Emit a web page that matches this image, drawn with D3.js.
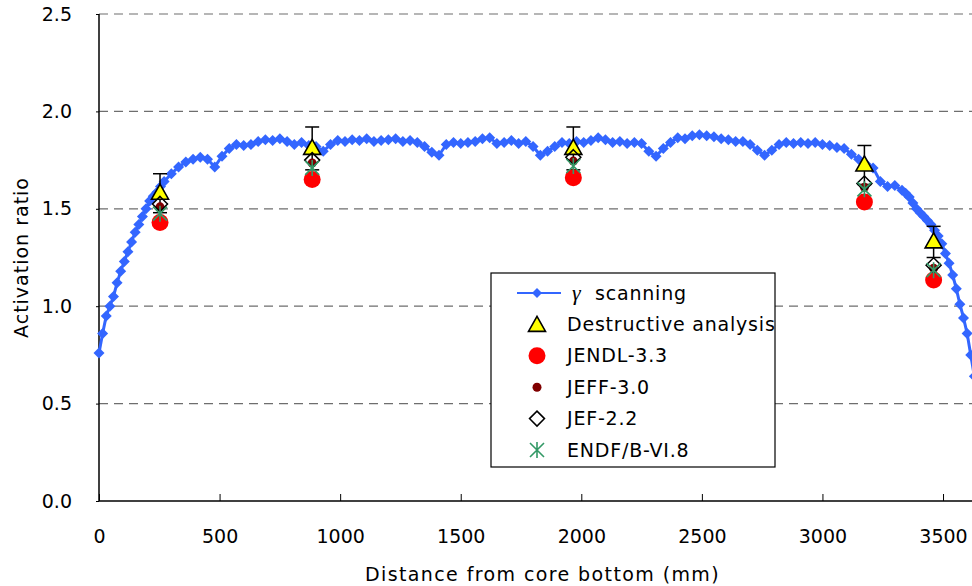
<!DOCTYPE html>
<html>
<head>
<meta charset="utf-8">
<script src="https://cdn.jsdelivr.net/npm/d3@7"></script>
<style>
  body { margin: 0; background: #fff; }
  svg text { font-family: "DejaVu Sans", sans-serif; fill: #000; }
</style>
</head>
<body>
<div id="graph"></div>
<script>
// chart data
const gammaPos = [0, 15, 30, 45, 60, 75, 90, 105, 120, 135, 150, 165, 180, 195, 210, 225, 240, 255, 270, 300,
  330, 360, 390, 420, 450, 480, 510, 540, 570,
  600, 630, 660, 690, 720, 750, 780, 810, 840, 870, 900, 930, 960, 990, 1020, 1050, 1080, 1110, 1140, 1170,
  1200, 1230, 1260, 1290, 1320, 1350, 1380, 1410, 1440, 1470, 1500, 1530, 1560, 1590, 1620, 1650, 1680, 1710, 1740, 1770,
  1800, 1830, 1860, 1890, 1920, 1950, 1980, 2010, 2040, 2070, 2100, 2130, 2160, 2190, 2220, 2250, 2280, 2310, 2340, 2370,
  2400, 2430, 2460, 2490, 2520, 2550, 2580, 2610, 2640, 2670, 2700, 2730, 2760, 2790, 2820, 2850, 2880, 2910, 2940, 2970,
  3000, 3030, 3060, 3090, 3120, 3150, 3180, 3210, 3240, 3270, 3300, 3330, 3345, 3360, 3375, 3390, 3405, 3420, 3435, 3450,
  3465, 3480, 3495, 3510, 3525, 3540, 3555, 3570, 3585, 3600, 3615, 3630];
const gammaVal = [0.76, 0.86, 0.95, 1.00, 1.05, 1.12, 1.18, 1.23, 1.28, 1.33, 1.38, 1.42, 1.46, 1.50, 1.54, 1.565, 1.585, 1.615, 1.64, 1.68,
  1.715, 1.74, 1.755, 1.765, 1.755, 1.715, 1.77, 1.81, 1.83,
  1.825, 1.83, 1.845, 1.855, 1.85, 1.86, 1.845, 1.83, 1.84, 1.825, 1.82, 1.795, 1.83, 1.85, 1.845, 1.855, 1.85, 1.86, 1.845, 1.85,
  1.855, 1.86, 1.845, 1.85, 1.84, 1.82, 1.79, 1.775, 1.83, 1.84, 1.835, 1.84, 1.845, 1.86, 1.865, 1.835, 1.84, 1.85, 1.835, 1.845,
  1.82, 1.775, 1.795, 1.82, 1.84, 1.835, 1.845, 1.84, 1.85, 1.865, 1.855, 1.84, 1.845, 1.835, 1.84, 1.835, 1.795, 1.77, 1.81, 1.84,
  1.865, 1.86, 1.875, 1.88, 1.875, 1.87, 1.86, 1.855, 1.845, 1.845, 1.83, 1.80, 1.775, 1.80, 1.83, 1.84, 1.835, 1.84, 1.835, 1.84,
  1.83, 1.825, 1.815, 1.81, 1.78, 1.755, 1.73, 1.71, 1.64, 1.615, 1.62, 1.595, 1.58, 1.56, 1.53, 1.50, 1.48, 1.46, 1.44, 1.42,
  1.39, 1.36, 1.32, 1.27, 1.22, 1.16, 1.09, 1.01, 0.94, 0.86, 0.75, 0.64];

const samplePos = [253, 884, 1967, 3174, 3461];
const destructive = [1.58, 1.81, 1.81, 1.725, 1.33];
const destructiveErr = [0.10, 0.11, 0.11, 0.10, 0.08];
const jendl33 = [1.43, 1.65, 1.66, 1.535, 1.135];
const jeff30 = [1.51, 1.735, 1.745, 1.61, 1.195];
const jef22 = [1.525, 1.75, 1.765, 1.63, 1.21];
const endf68 = [1.475, 1.71, 1.72, 1.60, 1.185];

const xTicks = [0, 500, 1000, 1500, 2000, 2500, 3000, 3500];
const yTicks = [0.0, 0.5, 1.0, 1.5, 2.0, 2.5];
const legendNames = ["scanning", "Destructive analysis", "JENDL-3.3", "JEFF-3.0", "JEF-2.2", "ENDF/B-VI.8"];

const width = 972, height = 586;
const blue = "#3366ff", green = "#339966";

let svg = d3.select("#graph")
    .append("svg")
    .attr("width", width)
    .attr("height", height);

let x = d3.scaleLinear().domain([0, 4000]).range([99, 1063.6]);
let y = d3.scaleLinear().domain([0, 2.5]).range([501, 14]);

// dashed grid lines
svg.append("g").selectAll("line")
    .data(yTicks.slice(1))
    .join("line")
    .attr("x1", x(0)).attr("x2", width)
    .attr("y1", d => y(d)).attr("y2", d => y(d))
    .attr("stroke", "#6e6e6e")
    .attr("stroke-width", 1.2)
    .attr("stroke-dasharray", "9,6");

// axes
let xAxis = svg.append("g")
    .attr("transform", `translate(0, ${y(0)})`)
    .call(d3.axisBottom(x).tickValues(xTicks).tickSize(-7).tickPadding(29).tickFormat(d3.format("d")));
xAxis.select(".domain").remove();
xAxis.append("line").attr("x1", x(0)).attr("x2", width).attr("stroke", "#000").attr("stroke-width", 1.5);
xAxis.selectAll(".tick line").attr("stroke", "#000");
xAxis.selectAll("text").style("font-size", "19px");

let yAxis = svg.append("g")
    .attr("transform", `translate(${x(0)}, 0)`)
    .call(d3.axisLeft(y).tickValues(yTicks).tickSize(3).tickPadding(24).tickFormat(d3.format(".1f")));
yAxis.select(".domain").remove();
yAxis.append("line").attr("y1", y(0)).attr("y2", y(2.5)).attr("stroke", "#000").attr("stroke-width", 1.5);
yAxis.selectAll(".tick line").attr("stroke", "#000");
yAxis.selectAll("text").style("font-size", "19px");

svg.append("text")
    .attr("transform", `translate(${(x(0) + width) / 2 + 7}, 581)`)
    .style("text-anchor", "middle")
    .style("font-size", "19px")
    .style("letter-spacing", "1.4px")
    .text("Distance from core bottom (mm)");

svg.append("text")
    .attr("transform", `translate(28, ${(y(0) + y(2.5)) / 2}) rotate(270)`)
    .style("text-anchor", "middle")
    .style("font-size", "19px")
    .style("letter-spacing", "1px")
    .text("Activation ratio");

// gamma scanning profile
let gamma = gammaPos.map((p, i) => ({pos: p, val: gammaVal[i]}));
let plot = svg.append("g");

plot.append("path")
    .datum(gamma)
    .attr("fill", "none")
    .attr("stroke", blue)
    .attr("stroke-width", 3)
    .attr("d", d3.line().x(d => x(d.pos)).y(d => y(d.val)));

function blueDiamond(g, cx, cy, s) {
  g.append("path")
    .attr("d", `M${cx},${cy - s}L${cx + s},${cy}L${cx},${cy + s}L${cx - s},${cy}Z`)
    .attr("fill", blue);
}
gamma.forEach(function(d) { blueDiamond(plot, x(d.pos), y(d.val), 5.5); });

// destructive analysis with error bars
let samples = samplePos.map((p, i) => ({
  pos: p, da: destructive[i], err: destructiveErr[i],
  jendl: jendl33[i], jeff: jeff30[i], jef: jef22[i], endf: endf68[i]
}));

let err = plot.append("g").selectAll("g").data(samples).join("g");
err.append("line")
    .attr("x1", d => x(d.pos)).attr("x2", d => x(d.pos))
    .attr("y1", d => y(d.da + d.err)).attr("y2", d => y(d.da - d.err))
    .attr("stroke", "#000").attr("stroke-width", 1.5);
err.append("line")
    .attr("x1", d => x(d.pos) - 7).attr("x2", d => x(d.pos) + 7)
    .attr("y1", d => y(d.da + d.err)).attr("y2", d => y(d.da + d.err))
    .attr("stroke", "#000").attr("stroke-width", 1.5);
err.append("line")
    .attr("x1", d => x(d.pos) - 7).attr("x2", d => x(d.pos) + 7)
    .attr("y1", d => y(d.da - d.err)).attr("y2", d => y(d.da - d.err))
    .attr("stroke", "#000").attr("stroke-width", 1.5);

function triangle(g, cx, cy) {
  g.append("path")
    .attr("d", `M${cx},${cy - 9}L${cx + 8.5},${cy + 6}L${cx - 8.5},${cy + 6}Z`)
    .attr("fill", "#ffff00").attr("stroke", "#000").attr("stroke-width", 1.6);
}
function circle(g, cx, cy, r, col) {
  g.append("circle").attr("cx", cx).attr("cy", cy).attr("r", r).attr("fill", col);
}
function hollowDiamond(g, cx, cy) {
  g.append("path")
    .attr("d", `M${cx},${cy - 7.5}L${cx + 7.5},${cy}L${cx},${cy + 7.5}L${cx - 7.5},${cy}Z`)
    .attr("fill", "none").attr("stroke", "#000").attr("stroke-width", 1.5);
}
function star(g, cx, cy, col) {
  let s = 7;
  g.append("path")
    .attr("d", `M${cx - s},${cy - s}L${cx + s},${cy + s}M${cx - s},${cy + s}L${cx + s},${cy - s}M${cx},${cy - s - 1}L${cx},${cy + s + 1}`)
    .attr("stroke", col).attr("stroke-width", 1.6).attr("fill", "none");
}

samples.forEach(function(d) { triangle(plot, x(d.pos), y(d.da)); });
samples.forEach(function(d) { circle(plot, x(d.pos), y(d.jendl), 8.5, "#ff0000"); });
samples.forEach(function(d) { circle(plot, x(d.pos), y(d.jeff), 4.5, "#800000"); });
samples.forEach(function(d) { hollowDiamond(plot, x(d.pos), y(d.jef)); });
samples.forEach(function(d) { star(plot, x(d.pos), y(d.endf), green); });

// legend
let legend = svg.append("g").attr("transform", "translate(491, 273)");
legend.append("rect")
    .attr("x", 0).attr("y", 0).attr("width", 284).attr("height", 194)
    .attr("fill", "#fff").attr("stroke", "#000").attr("stroke-width", 1.2);

let rowY = d3.scalePoint().domain(legendNames).range([20, 177]);
let mx = 46;

legend.append("line")
    .attr("x1", 26).attr("x2", 70)
    .attr("y1", rowY(legendNames[0])).attr("y2", rowY(legendNames[0]))
    .attr("stroke", blue).attr("stroke-width", 2);
blueDiamond(legend, mx, rowY(legendNames[0]), 5);
triangle(legend, mx, rowY(legendNames[1]) + 1);
circle(legend, mx, rowY(legendNames[2]), 8.5, "#ff0000");
circle(legend, mx, rowY(legendNames[3]), 4.5, "#800000");
hollowDiamond(legend, mx, rowY(legendNames[4]));
star(legend, mx, rowY(legendNames[5]), green);

legend.append("text")
    .attr("x", 81)
    .attr("y", rowY(legendNames[0]))
    .attr("dy", "0.3em")
    .style("font-family", "'Liberation Serif', serif")
    .style("font-style", "italic")
    .style("font-size", "22px")
    .text("\u03b3");

legend.selectAll("text.lab")
    .data(legendNames)
    .join("text")
    .attr("class", "lab")
    .attr("x", (d, i) => i == 0 ? 104 : 76)
    .attr("y", d => rowY(d))
    .attr("dy", "0.35em")
    .style("font-size", "19px")
    .style("letter-spacing", "0.8px")
    .text(d => d);
</script>
</body>
</html>
